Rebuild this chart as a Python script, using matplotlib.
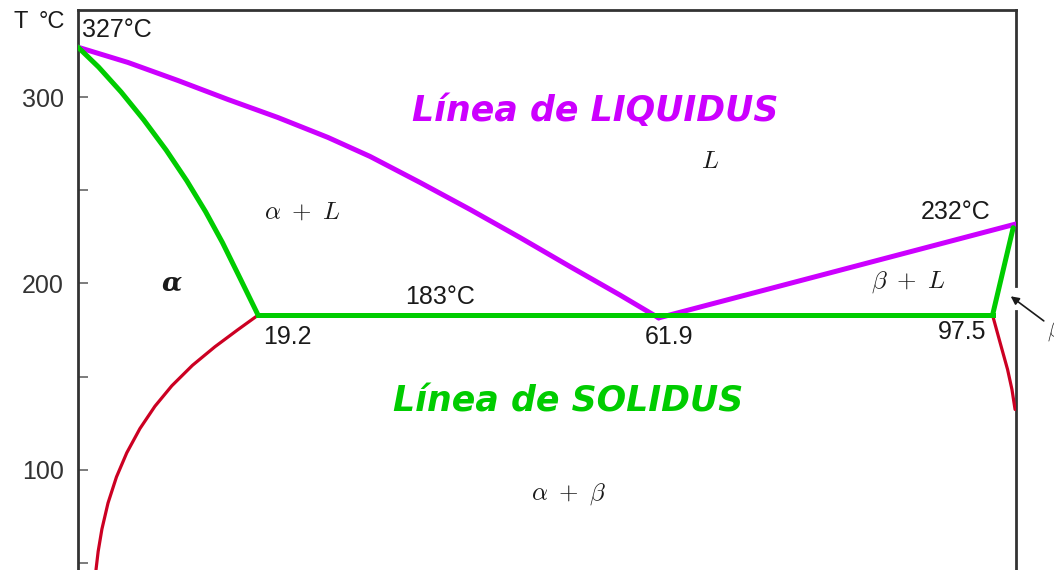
import matplotlib.pyplot as plt

# Pb-Sn phase diagram (wt% Sn vs temperature)
liquidus_left_x = [0, 5.33, 10.66, 15.99, 21.32, 26.65, 31.13, 36.46, 41.79,
                   47.12, 52.45, 57.78, 61.9]
liquidus_left_t = [327, 318.8, 309.1, 298.9, 289.2, 278.5, 268.3, 254.3, 239.8,
                   224.7, 209.1, 193.8, 181.5]
liquidus_right_x = [61.9, 100]
liquidus_right_t = [181.5, 232]

solidus_alpha_x = [0, 2.2, 4.6, 7.0, 9.4, 11.6, 13.6, 15.4, 17.3, 19.2]
solidus_alpha_t = [327, 316.3, 302.9, 288.0, 271.7, 255.2, 238.6, 222.0, 202.6, 183]
eutectic_x = [19.2, 97.5]
eutectic_t = [183, 183]
solidus_beta_x = [97.5, 99.7]
solidus_beta_t = [183, 230]

solvus_alpha_x = [19.2, 17.0, 14.6, 12.2, 10.0, 8.2, 6.6, 5.2, 4.1, 3.2, 2.55,
                  2.15, 1.92]
solvus_alpha_t = [183, 175, 166, 156, 145, 134, 122, 109, 96, 82, 68, 56, 46.2]
solvus_beta_x = [97.5, 98.3, 99.1, 99.57, 99.9]
solvus_beta_t = [183, 168.3, 153.8, 143.0, 132.3]

ytick_vals = [50, 100, 150, 200, 250, 300]
ytick_labels = ["", "100", "", "200", "", "300"]

MAGENTA = "#cc00ff"
GREEN = "#00cc00"
RED = "#cc0022"
INK = "#1a1a1a"

fig = plt.figure(figsize=(10.54, 5.70), dpi=100)
ax = fig.add_axes([78 / 1054, 0.0, (1016 - 78) / 1054, 1 - 10 / 570])
ax.set_xlim(0, 100)
ax.set_ylim(46, 347)

# phase boundaries
line = dict(solid_joinstyle="round", solid_capstyle="round")
ax.plot(solvus_alpha_x, solvus_alpha_t, color=RED, lw=2.3, zorder=2, **line)
ax.plot(solvus_beta_x, solvus_beta_t, color=RED, lw=2.3, zorder=2, **line)
ax.plot(liquidus_left_x, liquidus_left_t, color=MAGENTA, lw=3.6, zorder=3, **line)
ax.plot(liquidus_right_x, liquidus_right_t, color=MAGENTA, lw=3.6, zorder=3, **line)
ax.plot(solidus_alpha_x, solidus_alpha_t, color=GREEN, lw=3.6, zorder=4, **line)
ax.plot(eutectic_x, eutectic_t, color=GREEN, lw=3.6, zorder=4)
ax.plot(solidus_beta_x, solidus_beta_t, color=GREEN, lw=3.6, zorder=4, **line)

# frame: right edge is broken where the beta arrow comes in
for side in ["bottom", "right"]:
    ax.spines[side].set_visible(False)
for side in ["left", "top"]:
    ax.spines[side].set_color("#333333")
    ax.spines[side].set_linewidth(2)
ax.plot([100, 100], [347, 198.4], color="#333333", lw=2, clip_on=False, zorder=1)
ax.plot([100, 100], [185, 46], color="#333333", lw=2, clip_on=False, zorder=1)

ax.set_xticks([])
ax.set_yticks(ytick_vals)
ax.set_yticklabels(ytick_labels, fontsize=18, family="Liberation Sans", color="#333333")
ax.tick_params(axis="y", direction="in", length=7, width=1.2, color="#666666", pad=10)

num = dict(fontsize=18, family="Liberation Sans", color=INK)
axis_name = dict(fontsize=17, family="Liberation Sans", color=INK, va="center")
fig.text(13 / 1054, 1 - 22 / 570, "T", ha="left", **axis_name)
fig.text(39 / 1054, 1 - 22 / 570, "°C", ha="left", **axis_name)
ax.text(0.4, 336.5, "327°C", ha="left", va="center", **num)
ax.text(93.6, 238.2, "232°C", ha="center", va="center", **num)
ax.text(38.6, 192.5, "183°C", ha="center", va="center", **num)
ax.text(22.3, 171.5, "19.2", ha="center", va="center", **num)
ax.text(63.0, 171.0, "61.9", ha="center", va="center", **num)
ax.text(94.3, 173.7, "97.5", ha="center", va="center", **num)

# phase field labels
plt.rcParams["mathtext.fontset"] = "cm"
phase = dict(fontsize=18, color=INK, ha="center", va="center")
ax.text(67.4, 265.6, r"$L$", **phase)
ax.text(23.9, 238.7, r"$\alpha\ +\ L$", **phase)
ax.text(88.5, 200.5, r"$\beta\ +\ L$", **phase)
ax.text(52.3, 86.6, r"$\alpha\ +\ \beta$", **phase)
ax.text(10.0, 200.5, "α", fontsize=19, family="DejaVu Serif", style="italic",
        weight="bold", color=INK, ha="center", va="center")
ax.text(103.3, 175, r"$\beta$", fontsize=18, color=INK, ha="left", va="center",
        clip_on=False)
ax.annotate("", xy=(99.2, 194), xytext=(103.2, 179), annotation_clip=False,
            arrowprops=dict(arrowstyle="-|>", color=INK, lw=1.2, mutation_scale=12))

ax.text(55.1, 292.5, "Línea de LIQUIDUS", fontsize=25, family="DejaVu Sans",
        weight="bold", style="italic", color=MAGENTA, ha="center", va="center")
ax.text(52.2, 136.6, "Línea de SOLIDUS", fontsize=25, family="DejaVu Sans",
        weight="bold", style="italic", color=GREEN, ha="center", va="center")

fig.savefig("out.png", dpi=100)
